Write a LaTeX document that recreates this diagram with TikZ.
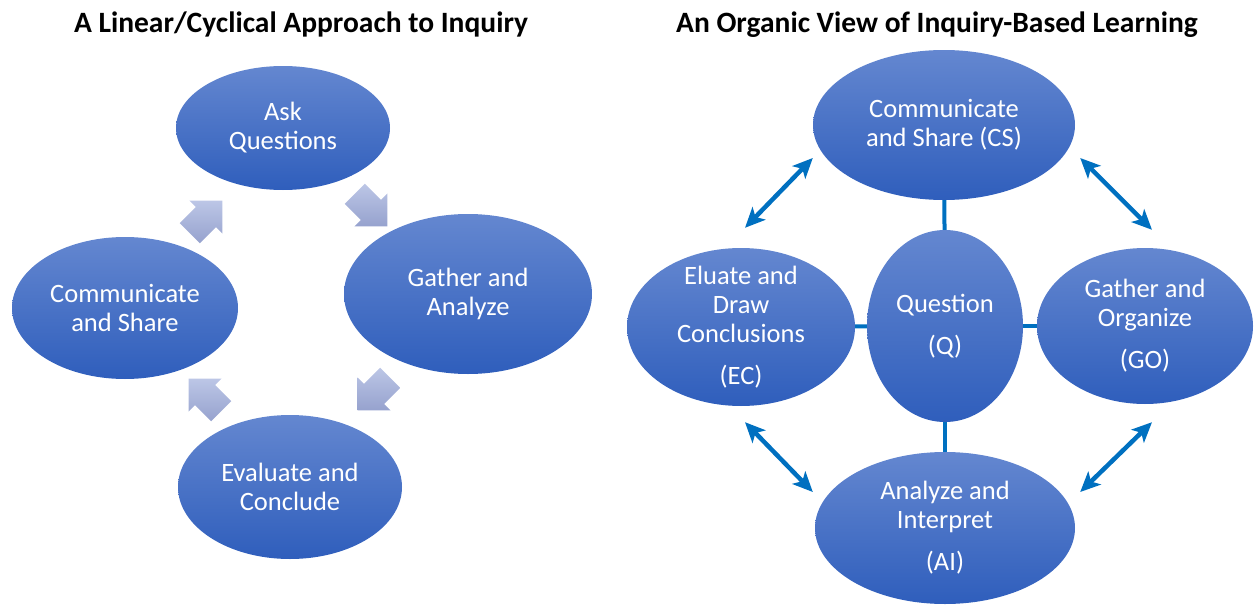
\documentclass[tikz,border=0pt]{standalone}
\usepackage{fontspec}
\setmainfont{Carlito}
\usetikzlibrary{shapes.geometric, shapes.arrows, arrows.meta}

\definecolor{ovaltop}{RGB}{100,135,208}
\definecolor{ovalbot}{RGB}{47,94,188}
\definecolor{chevtop}{RGB}{188,198,230}
\definecolor{chevbot}{RGB}{150,162,206}
\definecolor{linkblue}{RGB}{0,112,192}

\tikzset{
  heading/.style={anchor=base, font=\fontsize{29.5}{34}\selectfont\bfseries},
  oval/.style={ellipse, top color=ovaltop, bottom color=ovalbot, text=white,
    align=center, inner sep=-20pt, font=\fontsize{26.5}{29}\selectfont},
  turn/.style={single arrow, top color=chevtop, bottom color=chevbot,
    inner xsep=0pt, inner ysep=14pt, single arrow head extend=9pt,
    minimum height=46pt},
  spoke/.style={linkblue, line width=4pt},
  twoway/.style={linkblue, line width=4.5pt,
    {Stealth[length=20pt,width=18pt,inset=5pt]}-{Stealth[length=20pt,width=18pt,inset=5pt]}},
}

\begin{document}
\begin{tikzpicture}[x=1pt, y=-1pt]
  \useasboundingbox (0,0) rectangle (1254,605);

  % Titles
  \node[heading] (lefttitle)  at (301,32) {A Linear/Cyclical Approach to Inquiry};
  \node[heading] (righttitle) at (937,32) {An Organic View of Inquiry-Based Learning};

  % Linear/cyclical model
  \node[oval, minimum width=214pt, minimum height=124pt] (ask) at (283,128) {Ask\\Questions};
  \node[oval, minimum width=248pt, minimum height=160pt] (gather) at (468,294) {Gather and\\Analyze};
  \node[oval, minimum width=224pt, minimum height=144pt] (eval) at (290,487) {Evaluate and\\Conclude};
  \node[oval, minimum width=226pt, minimum height=142pt] (share) at (125,308) {Communicate\\and Share};

  % Block arrows between the stages
  \node[turn, rotate=-45]  (c1) at (366,205) {};
  \node[turn, rotate=-135] (c2) at (379,389) {};
  \node[turn, rotate=135]  (c3) at (210,400) {};
  \node[turn, rotate=45]   (c4) at (201,222) {};

  % Organic model
  \node[oval, minimum width=262pt, minimum height=150pt] (CS) at (944,125) {Communicate\\and Share (CS)};
  \node[oval, minimum width=228pt, minimum height=158pt] (EC) at (741,327) {Eluate and\\Draw\\Conclusions\\[13pt](EC)};
  \node[oval, minimum width=216pt, minimum height=156pt] (GO) at (1145,326) {Gather and\\Organize\\[13pt](GO)};
  \node[oval, minimum width=260pt, minimum height=152pt] (AI) at (945,528) {Analyze and\\Interpret\\[13pt](AI)};
  \node[oval, minimum width=156pt, minimum height=192pt] (Q) at (945,326) {Question\\[13pt](Q)};

  % Spokes to the question
  \draw[spoke] (Q) -- (CS);
  \draw[spoke] (Q) -- (EC);
  \draw[spoke] (Q) -- (GO);
  \draw[spoke] (Q) -- (AI);

  % Two-way links round the outside
  \draw[twoway] ([shift={(4,-20)}]EC.north) -- ([shift={(0,33)}]CS.west);
  \draw[twoway] ([shift={(5,33)}]CS.east) -- ([shift={(7,-18)}]GO.north);
  \draw[twoway] ([shift={(4,16)}]EC.south) -- ([shift={(-2,-36)}]AI.west);
  \draw[twoway] ([shift={(7,18)}]GO.south) -- ([shift={(5,-36)}]AI.east);
\end{tikzpicture}
\end{document}
